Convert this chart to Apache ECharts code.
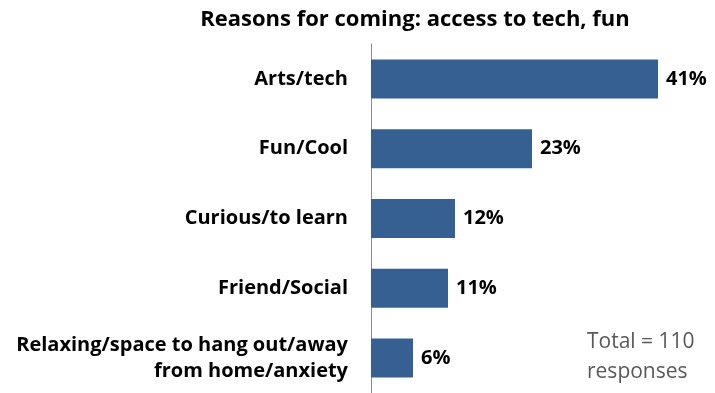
<!DOCTYPE html>
<html>
<head>
<meta charset="utf-8">
<script src="https://cdn.jsdelivr.net/npm/echarts@6/dist/echarts.min.js"></script>
<style>
  html, body { margin: 0; padding: 0; background: #ffffff; }
  #chart { width: 715px; height: 393px; }
</style>
</head>
<body>
<div id="chart"></div>
<script>
// Reasons given for coming, share of 110 responses
const categories = [
  'Arts/tech',
  'Fun/Cool',
  'Curious/to learn',
  'Friend/Social',
  'Relaxing/space to hang out/away\nfrom home/anxiety'
];
const percentValues = [41, 23, 12, 11, 6];
const titleText = 'Reasons for coming: access to tech, fun';
const noteLines = ['Total = 110', 'responses'];

const FONT = '"Open Sans"';
const chart = echarts.init(document.getElementById('chart'), null, { renderer: 'canvas' });

chart.setOption({
  animation: false,
  backgroundColor: '#ffffff',
  title: {
    text: titleText,
    left: 410,
    textAlign: 'center',
    top: 4,
    textStyle: { fontFamily: FONT, fontSize: 22, fontWeight: 'bold', color: '#000000' }
  },
  graphic: [{
    type: 'text',
    left: 587,
    top: 327,
    style: {
      text: noteLines.join('\n'),
      font: '21px ' + FONT,
      fill: '#595959',
      lineHeight: 30
    }
  }],
  grid: { left: 371, top: 44, width: 315, height: 355, containLabel: false },
  xAxis: {
    type: 'value',
    min: 0,
    max: 45,
    show: false
  },
  yAxis: {
    type: 'category',
    data: categories,
    inverse: true,
    axisLine: { show: true, lineStyle: { color: '#8c8c8c', width: 1 } },
    axisTick: { show: false },
    axisLabel: {
      margin: 23,
      fontFamily: FONT,
      fontSize: 20,
      fontWeight: 'bold',
      color: '#000000',
      align: 'right',
      lineHeight: 26
    }
  },
  series: [{
    type: 'bar',
    data: percentValues,
    barWidth: 39,
    itemStyle: { color: '#366092' },
    label: {
      show: true,
      position: 'right',
      distance: 8,
      formatter: '{c}%',
      fontFamily: FONT,
      fontSize: 20,
      fontWeight: 'bold',
      color: '#000000'
    }
  }]
});
</script>
</body>
</html>
